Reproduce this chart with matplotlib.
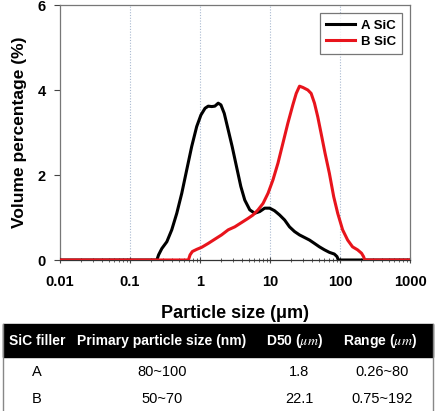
import matplotlib
matplotlib.use("Agg")
import matplotlib.pyplot as plt
from matplotlib.patches import Rectangle
from matplotlib.ticker import LogLocator, FixedLocator, NullFormatter

plt.rcParams['font.family'] = ['Liberation Sans', 'DejaVu Sans']
plt.rcParams['mathtext.fontset'] = 'stix'

# ---- data ----
a_size = [0.01, 0.242, 0.256, 0.285, 0.336, 0.395, 0.466, 0.549, 0.646, 0.761, 0.897, 1.03,
          1.18, 1.31, 1.47, 1.63, 1.82, 1.99, 2.22, 2.53, 2.88, 3.32, 3.83, 4.36, 5.14, 6.05,
          7.13, 8.4, 9.9, 11.6, 13.7, 16.2, 19.0, 22.4, 26.4, 31.1, 36.6, 43.2, 50.8, 59.9,
          70.5, 83.0, 90.6, 94.7, 1000]
a_vol = [0, 0, 0.12, 0.27, 0.43, 0.71, 1.10, 1.57, 2.12, 2.67, 3.14, 3.41,
         3.57, 3.62, 3.61, 3.62, 3.69, 3.65, 3.45, 3.06, 2.67, 2.20, 1.73, 1.41, 1.18, 1.10,
         1.14, 1.22, 1.22, 1.16, 1.06, 0.94, 0.78, 0.67, 0.59, 0.53, 0.47, 0.39, 0.31, 0.24,
         0.18, 0.14, 0.08, 0, 0]

b_size = [0.01, 0.683, 0.721, 0.778, 0.897, 1.06, 1.31, 1.63, 2.03, 2.53, 3.14, 3.91, 4.87,
          5.73, 6.75, 7.95, 9.37, 11.0, 13.0, 15.3, 18.0, 21.2, 23.7, 26.4, 29.5, 34.7, 38.7,
          43.2, 48.1, 53.7, 61.2, 70.5, 81.3, 92.7, 109, 128.5, 151, 178, 203, 217, 226, 1000]
b_vol = [0, 0, 0.12, 0.20, 0.25, 0.30, 0.39, 0.49, 0.59, 0.71, 0.78, 0.88, 0.98,
         1.06, 1.18, 1.33, 1.57, 1.88, 2.28, 2.75, 3.22, 3.65, 3.92, 4.09, 4.06, 4.00, 3.92,
         3.69, 3.37, 2.98, 2.51, 2.04, 1.49, 1.10, 0.71, 0.47, 0.31, 0.24, 0.16, 0.08, 0, 0]

series_labels = ["A SiC", "B SiC"]
x_ticks = [0.01, 0.1, 1, 10, 100, 1000]
x_ticklabels = ["0.01", "0.1", "1", "10", "100", "1000"]
y_ticks = [0, 2, 4, 6]

table_header = ["SiC filler", "Primary particle size (nm)", r"D50 ($\mu m$)", r"Range ($\mu m$)"]
table_filler = ["A", "B"]
table_primary = ["80~100", "50~70"]
table_d50 = ["1.8", "22.1"]
table_range = ["0.26~80", "0.75~192"]

# ---- figure ----
W, H = 440, 411
fig = plt.figure(figsize=(W / 100, H / 100), dpi=100)

def fx(px):
    return px / W

def fy(py):
    return 1 - py / H

ax = fig.add_axes([fx(60), fy(260), fx(410) - fx(60), fy(5) - fy(260)])
ax.set_xscale('log')
ax.set_xlim(0.01, 1000)
ax.set_ylim(0, 6)

for xv in x_ticks[1:-1]:
    ax.axvline(xv, color='#a9b9d0', linestyle=(0, (1, 1.5)), linewidth=0.8, zorder=0)

ax.plot(a_size, a_vol, color='black', linewidth=2.2, label=series_labels[0], zorder=3,
        solid_joinstyle='round')
ax.plot(b_size, b_vol, color='#e8141c', linewidth=2.2, label=series_labels[1], zorder=4,
        solid_joinstyle='round')

ax.xaxis.set_major_locator(FixedLocator(x_ticks))
ax.set_xticklabels(x_ticklabels)
ax.xaxis.set_minor_locator(LogLocator(base=10, subs=range(2, 10)))
ax.xaxis.set_minor_formatter(NullFormatter())
ax.set_yticks(y_ticks)

ax.tick_params(axis='x', which='major', direction='inout', length=5, width=0.8, pad=8,
               labelsize=10.5, color='#444444')
ax.tick_params(axis='x', which='minor', direction='inout', length=3, width=0.6, color='#444444')
ax.tick_params(axis='y', which='major', direction='out', length=4, width=0.8, pad=6,
               labelsize=10.5, color='#444444')
for lab in ax.get_xticklabels() + ax.get_yticklabels():
    lab.set_fontweight('bold')

for side in ['top', 'right', 'left']:
    ax.spines[side].set_color('#777777')
    ax.spines[side].set_linewidth(0.9)
ax.spines['bottom'].set_color('#333333')
ax.spines['bottom'].set_linewidth(0.9)

ax.set_ylabel("Volume percentage (%)", fontsize=12.5, fontweight='bold', labelpad=8)
ax.set_xlabel("Particle size (\u03bcm)", fontsize=13, fontweight='bold', labelpad=12)

leg = ax.legend(loc='upper right', frameon=True, fancybox=False,
                handlelength=2.2, handletextpad=0.4, borderpad=0.5, labelspacing=0.3,
                bbox_to_anchor=(0.997, 0.995), prop={'weight': 'bold', 'size': 9.5})
leg.get_frame().set_edgecolor('#555555')
leg.get_frame().set_linewidth(0.9)

# ---- table ----
tax = fig.add_axes([0, 0, 1, 1])
tax.set_xlim(0, W)
tax.set_ylim(H, 0)
tax.axis('off')
tax.add_patch(Rectangle((3, 324), 430, 33, facecolor='black', edgecolor='black'))
tax.plot([3, 3], [324, H], color='#888888', linewidth=1.0)
tax.plot([433, 433], [324, H], color='#888888', linewidth=1.0)

col_x = [37, 162, 295, 380]
for cx, txt in zip(col_x, table_header):
    tax.text(cx, 341, txt, color='white', fontsize=10, fontweight='bold',
             ha='center', va='center')
rows = list(zip(table_filler, table_primary, table_d50, table_range))
for ry, row in zip([372, 399], rows):
    for cx, txt in zip([37, 162, 299, 382], row):
        tax.text(cx, ry, txt, color='black', fontsize=10.5, ha='center', va='center')

fig.savefig("out.png", dpi=100)
